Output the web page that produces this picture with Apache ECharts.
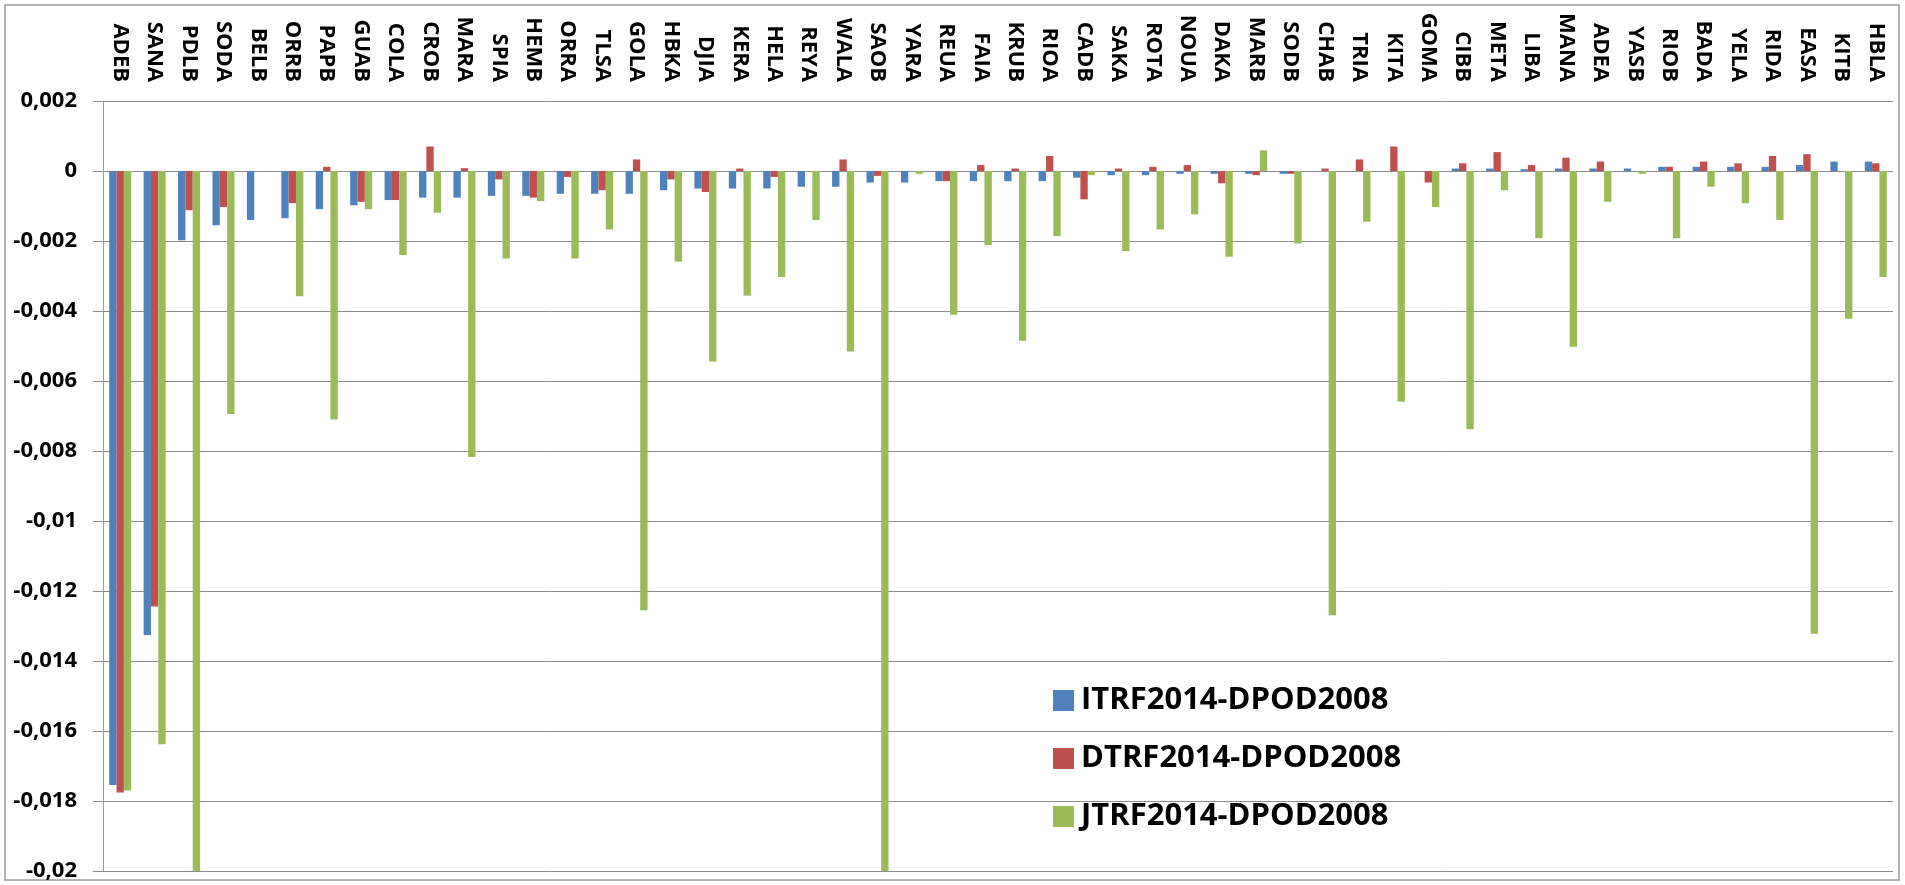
<!DOCTYPE html>
<html>
<head>
<meta charset="utf-8">
<script src="https://cdn.jsdelivr.net/npm/echarts@6/dist/echarts.min.js"></script>
<style>
html,body{margin:0;padding:0;background:#fff;}
#chart{width:1905px;height:885px;}
</style>
</head>
<body>
<div id="chart"></div>
<script>
var categories = ['ADEB','SANA','PDLB','SODA','BELB','ORRB','PAPB','GUAB','COLA','CROB','MARA','SPIA','HEMB','ORRA','TLSA','GOLA','HBKA','DJIA','KERA','HELA','REYA','WALA','SAOB','YARA','REUA','FAIA','KRUB','RIOA','CADB','SAKA','ROTA','NOUA','DAKA','MARB','SODB','CHAB','TRIA','KITA','GOMA','CIBB','META','LIBA','MANA','ADEA','YASB','RIOB','BADA','YELA','RIDA','EASA','KITB','HBLA'];

var seriesNames = ['ITRF2014-DPOD2008','DTRF2014-DPOD2008','JTRF2014-DPOD2008'];

var itrf = [-0.01754,-0.01326,-0.00198,-0.00155,-0.0014,-0.00135,-0.00109,-0.00098,-0.00083,-0.00076,-0.00076,-0.00071,-0.00071,-0.00065,-0.00065,-0.00065,-0.00055,-0.0005,-0.0005,-0.0005,-0.00045,-0.00045,-0.00033,-0.00033,-0.00029,-0.00029,-0.00029,-0.00029,-0.00019,-0.00012,-0.00012,-0.00008,-0.00008,-0.00008,-0.00008,0,0,0,0,0.00007,0.00007,0.00005,0.00007,0.00007,0.00007,0.00012,0.00012,0.00012,0.00012,0.00017,0.00027,0.00027];

var dtrf = [-0.01776,-0.01244,-0.00112,-0.00103,0,-0.00092,0.00012,-0.00088,-0.00083,0.0007,0.00008,-0.00024,-0.00076,-0.00017,-0.00055,0.00033,-0.00024,-0.0006,0.00007,-0.00017,0,0.00033,-0.00014,0,-0.00029,0.00017,0.00007,0.00043,-0.00081,0.00007,0.00012,0.00017,-0.00035,-0.00012,-0.00008,0.00007,0.00033,0.0007,-0.00033,0.00022,0.00054,0.00017,0.00038,0.00027,0,0.00012,0.00027,0.00022,0.00043,0.00048,0,0.00022];

var jtrf = [-0.0177,-0.01638,-0.02,-0.00694,0,-0.00358,-0.0071,-0.00109,-0.0024,-0.00119,-0.00817,-0.0025,-0.00086,-0.0025,-0.00167,-0.01255,-0.00259,-0.00544,-0.00356,-0.00303,-0.0014,-0.00516,-0.02,-0.00008,-0.00411,-0.00212,-0.00485,-0.00186,-0.00012,-0.00229,-0.00167,-0.00124,-0.00245,0.00059,-0.00207,-0.01269,-0.00145,-0.00659,-0.00103,-0.00738,-0.00055,-0.00192,-0.00502,-0.00088,-0.00008,-0.00192,-0.00045,-0.00092,-0.0014,-0.01322,-0.00422,-0.00303];

var colors = ['#4F81BD','#C0504D','#9BBB59'];
var FONT = 'Open Sans';

var chart = echarts.init(document.getElementById('chart'));
function fmt(v){
  var s = String(Number(v.toFixed(4)));
  return s.replace('.', ',');
}
var seriesData = [itrf, dtrf, jtrf];
var series = seriesNames.map(function(n, i){
  return {
    name: n,
    type: 'bar',
    data: seriesData[i],
    barGap: '0%',
    barCategoryGap: '36%',
    itemStyle: {color: colors[i]},
    clip: true
  };
});

chart.setOption({
  animation: false,
  backgroundColor: '#ffffff',
  color: colors,
  graphic: [{
    type: 'rect',
    shape: {x: 5, y: 5, width: 1894, height: 875},
    style: {fill: 'none', stroke: '#9a9a9a', lineWidth: 1.5},
    silent: true,
    z: -1
  }],
  grid: {left: 103, right: 12, top: 101, bottom: 14, containLabel: false},
  legend: {
    orient: 'vertical',
    left: 1048,
    top: 678,
    itemWidth: 21,
    itemHeight: 21,
    itemGap: 23,
    icon: 'rect',
    data: seriesNames,
    textStyle: {fontFamily: FONT, fontWeight: 'bold', fontSize: 31, color: '#000', lineHeight: 35, padding: [0,0,0,2]}
  },
  xAxis: {
    type: 'category',
    data: categories,
    position: 'top',
    axisLine: {show: false, onZero: false},
    axisTick: {show: false},
    splitLine: {show: false},
    axisLabel: {rotate: 90, interval: 0, margin: 19, fontFamily: FONT, fontWeight: 'bold', fontSize: 22, color: '#000'}
  },
  yAxis: {
    type: 'value',
    min: -0.02,
    max: 0.002,
    interval: 0.002,
    axisLine: {show: true, lineStyle: {color: '#9a9a9a', width: 1}},
    axisTick: {show: true, length: 10, lineStyle: {color: '#8c8c8c'}},
    splitLine: {show: true, lineStyle: {color: '#8c8c8c', width: 1}},
    axisLabel: {margin: 26, fontFamily: FONT, fontWeight: 'bold', fontSize: 22, color: '#000', formatter: fmt}
  },
  series: series
});
</script>
</body>
</html>
